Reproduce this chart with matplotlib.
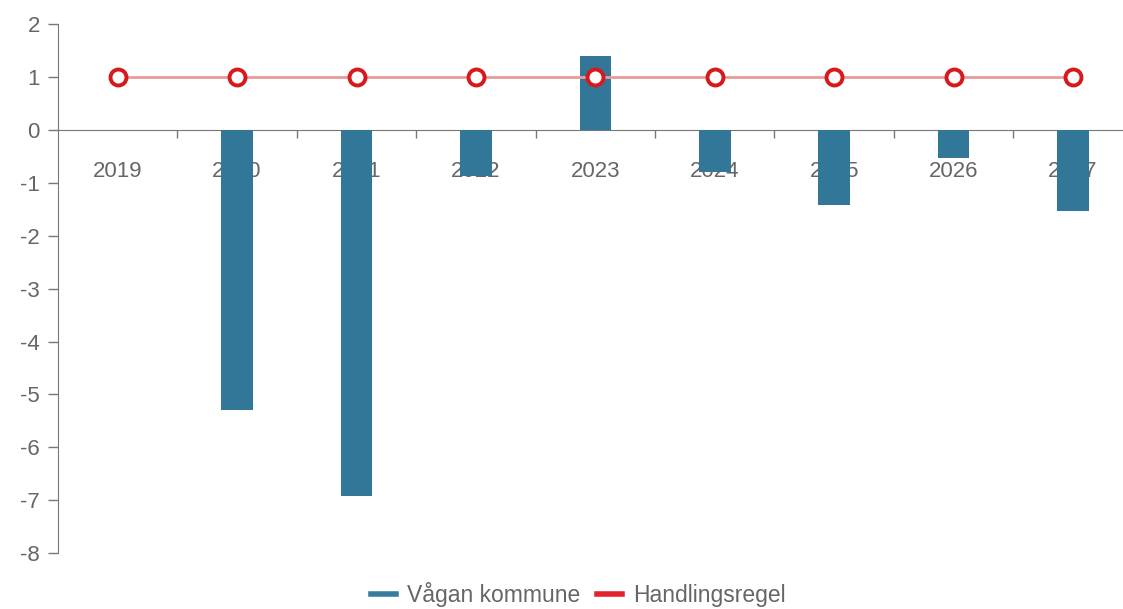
import matplotlib
matplotlib.use("Agg")
import matplotlib.pyplot as plt
from matplotlib.lines import Line2D
from matplotlib.ticker import FixedLocator

plt.rcParams['font.family'] = ['Liberation Sans', 'DejaVu Sans']

years = ['2019', '2020', '2021', '2022', '2023', '2024', '2025', '2026', '2027']
vagan = [0.0, -5.3, -6.92, -0.87, 1.4, -0.79, -1.42, -0.52, -1.52]
handlingsregel = [1, 1, 1, 1, 1, 1, 1, 1, 1]
yticks = [2, 1, 0, -1, -2, -3, -4, -5, -6, -7, -8]

bar_color = '#327798'
line_color = '#E99A9A'
marker_color = '#D7191C'
text_color = '#666666'
spine_color = '#777777'

W, H = 1123, 609
fig = plt.figure(figsize=(W / 100, H / 100), dpi=100)
left_px, right_px, top_px, bot_px = 58, 1123, 24.5, 553
ax = fig.add_axes([left_px / W, 1 - bot_px / H, (right_px - left_px) / W, (bot_px - top_px) / H])

x = list(range(len(years)))
ax.bar(x, vagan, width=0.265, color=bar_color, zorder=1)
ax.plot(x, handlingsregel, color=line_color, linewidth=2, zorder=2)
ax.plot(x, handlingsregel, linestyle='none', marker='o', markersize=11.5,
        markerfacecolor='white', markeredgecolor=marker_color, markeredgewidth=2.8, zorder=3)

ax.set_ylim(-8, 2)
ax.set_xlim(-0.5, (W - 117) / 119.5)
ax.set_axisbelow(True)

for s in ['top', 'right']:
    ax.spines[s].set_visible(False)
ax.spines['bottom'].set_position(('data', 0))
ax.spines['bottom'].set_color(spine_color)
ax.spines['left'].set_color(spine_color)
ax.spines['bottom'].set_zorder(0.6)

ax.set_yticks(yticks)
ax.set_yticklabels([str(v) for v in yticks])
ax.tick_params(axis='y', length=7, width=1, color=spine_color, labelcolor=text_color,
               labelsize=16, pad=6)

ax.set_xticks(x)
ax.set_xticklabels(years)
ax.xaxis.set_minor_locator(FixedLocator([i + 0.5 for i in range(len(years) - 1)]))
ax.tick_params(axis='x', which='major', length=0, labelcolor=text_color, labelsize=16, pad=22)
ax.tick_params(axis='x', which='minor', length=6, width=1, color=spine_color, direction='out')

handles = [Line2D([0], [0], color='#3A7CA0', linewidth=4),
           Line2D([0], [0], color='#E2232B', linewidth=4)]
fig.legend(handles, ['Vågan kommune', 'Handlingsregel'], loc='lower center',
           bbox_to_anchor=(0.515, -0.03), ncol=2, frameon=False, fontsize=16.5,
           handlelength=1.1, handletextpad=0.5, columnspacing=0.7, labelcolor=text_color)

fig.savefig('out.png', dpi=100, facecolor='white')
